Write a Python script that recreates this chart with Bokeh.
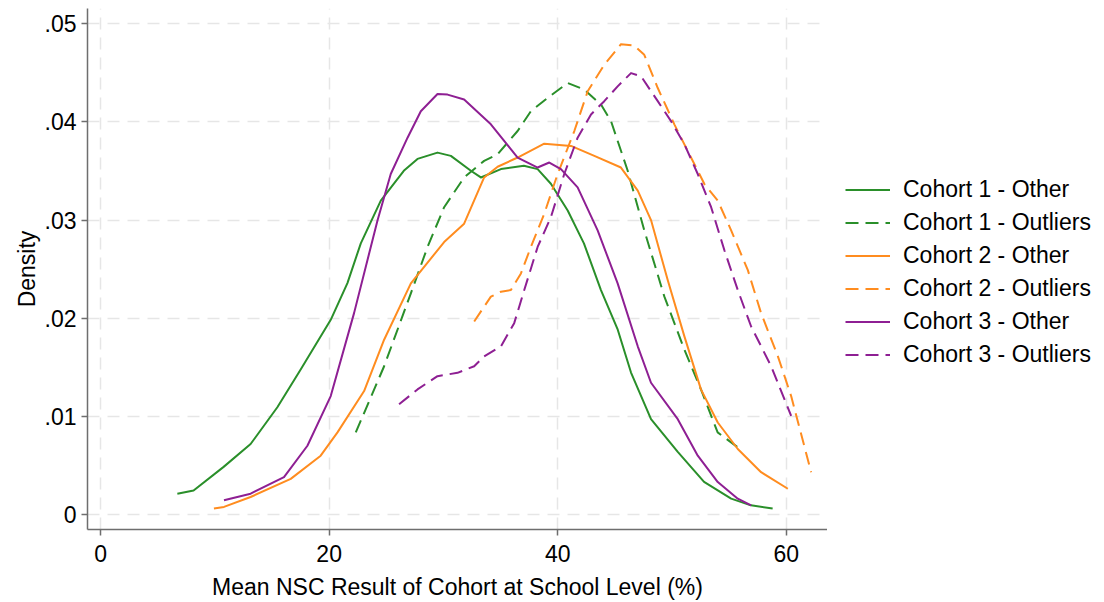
from bokeh.plotting import figure
from bokeh.layouts import row
from bokeh.models import Legend, LegendItem, CustomJSTickFormatter, Range1d, FixedTicker
from bokeh.embed import file_html
from bokeh.resources import INLINE

# ---- data ----
c1_other_x = [6.72, 8.14, 10.77, 13.13, 15.47, 17.51, 20.14, 21.6, 22.77, 24.52, 26.53, 27.73, 29.48, 30.65,
              32.4, 33.27, 35.03, 37.04, 38.24, 39.4, 40.87, 42.29, 43.78, 45.25, 46.41, 48.16, 50.5,
              52.8, 55.17, 56.9, 58.8]
c1_other_y = [.00213, .00246, .00486, .00719, .01093, .01478, .01984, .02358, .02763, .03198, .03502, .03623,
              .03687, .03654, .03502, .03434, .03519, .03553, .03519, .03370, .03097, .02763, .02287, .01883,
              .01447, .00972, .00638, .00334, .00162, .00094, .00061]

c1_out_x = [22.33, 24.81, 27.15, 28.61, 30.06, 31.81, 33.56, 34.74, 36.49, 37.65, 39.11, 40.87, 42.32, 43.78,
            44.66, 46.12, 47.57, 49.33, 51.08, 52.53, 53.99, 55.75]
c1_out_y = [.00837, .01511, .02254, .02726, .03131, .03434, .03603, .03671, .03907, .04109, .04244, .04396,
            .04329, .04177, .04008, .03502, .02895, .02220, .01680, .01275, .00837, .00685]

c2_other_x = [9.92, 10.8, 13.13, 16.64, 19.26, 20.73, 23.06, 24.81, 27.15, 30.06, 31.81, 33.56, 34.74, 36.49,
              38.82, 41.16, 43.2, 45.53, 47.0, 48.16, 49.62, 51.08, 52.53, 54.0, 55.75, 57.79, 60.13]
c2_other_y = [.00061, .00078, .00179, .00364, .00600, .00837, .01258, .01781, .02355, .02776, .02963, .03434,
              .03543, .03637, .03778, .03755, .03654, .03535, .03300, .03000, .02389, .01815, .01275, .00938,
              .00668, .00432, .00263]

c2_out_x = [32.69, 34.15, 35.03, 35.9, 36.78, 37.65, 38.82, 39.99, 41.45, 42.62, 44.07, 45.53, 46.7, 47.57,
            48.75, 50.2, 51.66, 52.83, 54.0, 55.17, 56.63, 57.79, 59.26, 60.42, 62.17]
c2_out_y = [.01967, .02220, .02270, .02287, .02456, .02726, .03064, .03469, .03907, .04312, .04582, .04791,
            .04777, .04683, .04345, .03975, .03637, .03367, .03198, .02895, .02490, .02052, .01612, .01207,
            .00432]

c3_other_x = [10.8, 13.13, 16.05, 18.1, 20.14, 22.18, 24.23, 25.39, 26.86, 28.02, 29.48, 30.36, 31.81, 34.15,
              36.49, 38.24, 39.26, 40.28, 41.74, 43.49, 45.24, 47.0, 48.16, 50.5, 52.25, 54.0, 55.75, 56.92]
c3_other_y = [.00145, .00213, .00382, .00701, .01207, .02052, .02996, .03469, .03839, .04109, .04284, .04278,
              .04228, .03975, .03637, .03535, .03586, .03519, .03333, .02895, .02355, .01714, .01343, .00972,
              .00600, .00331, .00162, .00094]

c3_out_x = [26.12, 27.73, 29.48, 31.23, 32.69, 33.56, 35.03, 36.19, 37.07, 38.24, 39.4, 40.57, 41.74, 42.91,
            44.07, 45.24, 46.41, 47.29, 48.75, 49.91, 51.08, 52.25, 53.42, 54.58, 55.75, 56.92, 58.67, 60.42]
c3_out_y = [.01123, .01275, .01410, .01444, .01511, .01612, .01714, .01950, .02287, .02726, .03029, .03469,
            .03839, .04076, .04211, .04362, .04497, .04464, .04211, .04008, .03772, .03469, .03131, .02692,
            .02287, .01916, .01511, .01005]

series_labels = ["Cohort 1 - Other", "Cohort 1 - Outliers", "Cohort 2 - Other",
                 "Cohort 2 - Outliers", "Cohort 3 - Other", "Cohort 3 - Outliers"]
x_ticks = [0, 20, 40, 60]
y_ticks = [0, 0.01, 0.02, 0.03, 0.04, 0.05]

GREEN = "#2a8f2a"
ORANGE = "#ff8c1f"
PURPLE = "#8e1f93"
FONT = "Liberation Sans"
FS = "23px"

p = figure(width=827, height=602, output_backend="svg", toolbar_location=None,
           x_range=Range1d(-1.14, 63.6), y_range=Range1d(-0.00152, 0.05155),
           min_border_left=87, min_border_right=0, min_border_top=8, min_border_bottom=71)
p.outline_line_color = None
p.background_fill_color = "white"
p.border_fill_color = "white"

series = [
    (c1_other_x, c1_other_y, GREEN, "solid"),
    (c1_out_x, c1_out_y, GREEN, "13 7"),
    (c2_other_x, c2_other_y, ORANGE, "solid"),
    (c2_out_x, c2_out_y, ORANGE, "13 7"),
    (c3_other_x, c3_other_y, PURPLE, "solid"),
    (c3_out_x, c3_out_y, PURPLE, "13 7"),
]
for xs, ys, col, dash in series:
    p.line(xs, ys, line_color=col, line_width=2, line_dash=dash, line_join="round")

for ax in (p.xaxis[0], p.yaxis[0]):
    ax.axis_line_color = "#6e6e6e"
    ax.axis_line_width = 1.5
    ax.major_tick_line_color = "#6e6e6e"
    ax.major_tick_line_width = 1.5
    ax.major_tick_out = 6
    ax.major_tick_in = 0
    ax.minor_tick_line_color = None
    ax.major_label_text_font = FONT
    ax.major_label_text_font_size = FS
    ax.major_label_text_color = "black"
    ax.axis_label_text_font = FONT
    ax.axis_label_text_font_size = FS
    ax.axis_label_text_font_style = "normal"
    ax.axis_label_text_color = "black"

p.xaxis.ticker = FixedTicker(ticks=x_ticks)
p.yaxis.ticker = FixedTicker(ticks=y_ticks)
p.yaxis.formatter = CustomJSTickFormatter(code="""
    if (Math.abs(tick) < 1e-9) { return "0"; }
    return tick.toFixed(2).replace(/^0/, "");
""")
p.xaxis.axis_label = "Mean NSC Result of Cohort at School Level (%)"
p.yaxis.axis_label = "Density"
p.xaxis.major_label_standoff = 9
p.yaxis.major_label_standoff = 5
p.xaxis.axis_label_standoff = 9
p.yaxis.axis_label_standoff = 2

for g in (p.xgrid[0], p.ygrid[0]):
    g.grid_line_color = "#e6e6e6"
    g.grid_line_width = 1.5
    g.grid_line_dash = "12 8"

# ---- legend panel (separate figure to the right of the plot) ----
lg = figure(width=277, height=602, output_backend="svg", toolbar_location=None,
            x_range=Range1d(1000, 1001), y_range=Range1d(1000, 1001),
            x_axis_type=None, y_axis_type=None,
            min_border_left=0, min_border_right=0, min_border_top=0, min_border_bottom=0)
lg.outline_line_color = None
lg.grid.visible = False
lg_renderers = []
for xs, ys, col, dash in series:
    r = lg.line(xs, ys, line_color=col, line_width=2, line_dash=dash)
    lg_renderers.append(r)

items = [LegendItem(label=lab, renderers=[r]) for lab, r in zip(series_labels, lg_renderers)]
legend = Legend(items=items, location=(18, 158), orientation="vertical",
                glyph_width=45, glyph_height=33, label_height=33, label_standoff=13,
                spacing=0, padding=0, margin=0, border_line_color=None,
                background_fill_alpha=0.0,
                label_text_font=FONT, label_text_font_size=FS, label_text_color="black")
lg.add_layout(legend, "center")

layout = row(p, lg, spacing=0)
open("out.html", "w").write(file_html(layout, INLINE))
